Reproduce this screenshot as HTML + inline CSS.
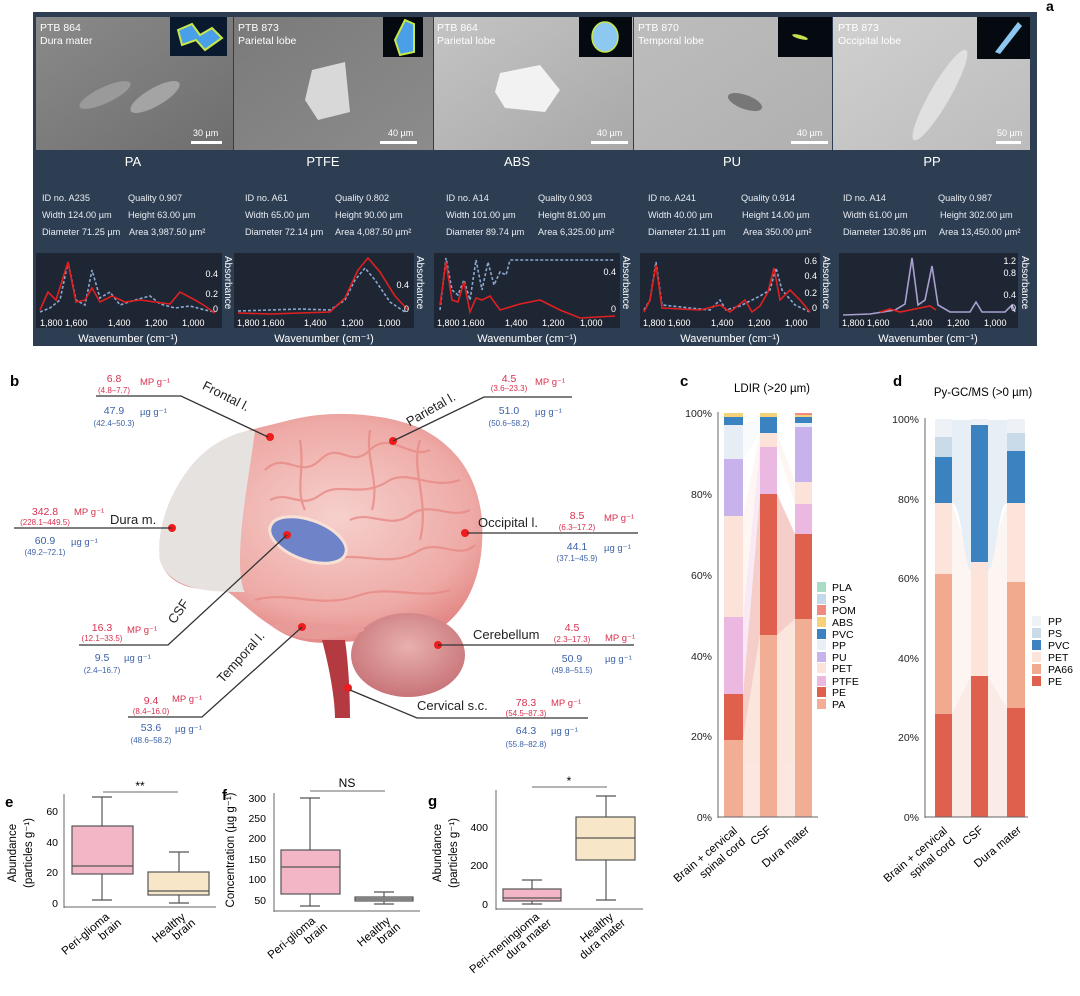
<!DOCTYPE html>
<html><head><meta charset="utf-8"><style>
html,body{margin:0;padding:0;background:#fff;}
svg{display:block;font-family:"Liberation Sans",sans-serif;}
</style></head><body>
<svg width="1080" height="996" viewBox="0 0 1080 996" xmlns="http://www.w3.org/2000/svg">
<defs>
<linearGradient id="g1" x1="0" y1="0" x2="1" y2="1"><stop offset="0" stop-color="#8a8a8a"/><stop offset="1" stop-color="#6e6e6e"/></linearGradient>
<linearGradient id="g2" x1="0" y1="0" x2="1" y2="1"><stop offset="0" stop-color="#7a7a7a"/><stop offset="1" stop-color="#8c8c8c"/></linearGradient>
<linearGradient id="g3" x1="0" y1="0" x2="1" y2="1"><stop offset="0" stop-color="#c4c4c4"/><stop offset="1" stop-color="#a8a8a8"/></linearGradient>
<linearGradient id="g4" x1="0" y1="0" x2="1" y2="1"><stop offset="0" stop-color="#bdbdbd"/><stop offset="1" stop-color="#b0b0b0"/></linearGradient>
<linearGradient id="g5" x1="0" y1="0" x2="1" y2="1"><stop offset="0" stop-color="#d0d0d0"/><stop offset="1" stop-color="#bcbcbc"/></linearGradient>
<radialGradient id="brain" cx="0.55" cy="0.45" r="0.6"><stop offset="0" stop-color="#f6d0cc"/><stop offset="0.7" stop-color="#eeaaa6"/><stop offset="1" stop-color="#e0807e"/></radialGradient>
<radialGradient id="cereb" cx="0.5" cy="0.4" r="0.6"><stop offset="0" stop-color="#e8b0ae"/><stop offset="1" stop-color="#c87478"/></radialGradient>
</defs>

<!-- PANEL A -->
<text x="1046" y="11" font-size="14" font-weight="bold">a</text>
<rect x="33" y="12" width="1004" height="334" fill="#2e3e52"/>
<rect x="36" y="17" width="197" height="133" fill="url(#g1)"/>
<rect x="234" y="17" width="199" height="133" fill="url(#g2)"/>
<rect x="434" y="17" width="199" height="133" fill="url(#g3)"/>
<rect x="634" y="17" width="198" height="133" fill="url(#g4)"/>
<rect x="833" y="17" width="197" height="133" fill="url(#g5)"/>
<!-- particles -->
<ellipse cx="105" cy="95" rx="28" ry="8" fill="#9a9a9a" transform="rotate(-25 105 95)"/>
<ellipse cx="155" cy="97" rx="28" ry="9" fill="#a4a4a4" transform="rotate(-30 155 97)"/>
<polygon points="312,70 345,62 350,112 318,120 305,100" fill="#d8d8d8"/>
<polygon points="500,73 540,65 560,90 545,112 505,108 495,92" fill="#f2f2f2"/>
<ellipse cx="745" cy="102" rx="18" ry="7" fill="#777" transform="rotate(20 745 102)"/>
<ellipse cx="940" cy="95" rx="10" ry="52" fill="#e0e0e0" transform="rotate(30 940 95)"/>
<!-- insets -->
<rect x="170" y="17" width="57" height="39" fill="#0a1a2e"/><path d="M178,30 L192,24 L200,35 L212,28 L222,38 L205,50 L196,40 L182,45 Z" fill="#4aa0e8" stroke="#c8e84a" stroke-width="2"/>
<rect x="383" y="17" width="40" height="40" fill="#050a10"/><path d="M405,20 L414,24 L414,52 L400,55 L395,40 Z" fill="#4aa0e8" stroke="#c8e84a" stroke-width="2"/>
<rect x="579" y="17" width="53" height="40" fill="#050a10"/><ellipse cx="605" cy="37" rx="13" ry="15" fill="#8cc8f0" stroke="#c8e84a" stroke-width="1.5"/>
<rect x="778" y="17" width="54" height="40" fill="#050a10"/><ellipse cx="800" cy="37" rx="8" ry="2" fill="#c8e050" transform="rotate(15 800 37)"/>
<rect x="977" y="17" width="53" height="42" fill="#050a10"/><path d="M995,52 L1018,22 L1022,26 L1000,54 Z" fill="#8cc8f0"/>
<g fill="#fff" font-size="10.5">
<text x="40" y="31">PTB 864</text><text x="40" y="44">Dura mater</text>
<text x="238" y="31">PTB 873</text><text x="238" y="44">Parietal lobe</text>
<text x="437" y="31">PTB 864</text><text x="437" y="44">Parietal lobe</text>
<text x="638" y="31">PTB 870</text><text x="638" y="44">Temporal lobe</text>
<text x="838" y="31">PTB 873</text><text x="838" y="44">Occipital lobe</text>
<g font-size="9"><text x="193" y="136">30 µm</text><text x="388" y="136">40 µm</text><text x="597" y="136">40 µm</text><text x="797" y="136">40 µm</text><text x="997" y="136">50 µm</text></g>
</g>
<g fill="#fff"><rect x="191" y="141" width="31" height="3"/><rect x="380" y="141" width="37" height="3"/><rect x="591" y="141" width="37" height="3"/><rect x="791" y="141" width="37" height="3"/><rect x="996" y="141" width="25" height="3"/></g>
<g fill="#fff" font-size="13" text-anchor="middle">
<text x="133" y="166">PA</text><text x="323" y="166">PTFE</text><text x="517" y="166">ABS</text><text x="732" y="166">PU</text><text x="932" y="166">PP</text>
</g>
<g fill="#e8ecf2" font-size="9.2">
<text x="42" y="201">ID no. A235</text><text x="128" y="201">Quality 0.907</text>
<text x="42" y="218">Width 124.00 µm</text><text x="128" y="218">Height 63.00 µm</text>
<text x="42" y="235">Diameter 71.25 µm</text><text x="129" y="235">Area 3,987.50 µm²</text>
<text x="245" y="201">ID no. A61</text><text x="335" y="201">Quality 0.802</text>
<text x="245" y="218">Width 65.00 µm</text><text x="335" y="218">Height 90.00 µm</text>
<text x="245" y="235">Diameter 72.14 µm</text><text x="335" y="235">Area 4,087.50 µm²</text>
<text x="446" y="201">ID no. A14</text><text x="538" y="201">Quality 0.903</text>
<text x="446" y="218">Width 101.00 µm</text><text x="538" y="218">Height 81.00 µm</text>
<text x="446" y="235">Diameter 89.74 µm</text><text x="538" y="235">Area 6,325.00 µm²</text>
<text x="648" y="201">ID no. A241</text><text x="741" y="201">Quality 0.914</text>
<text x="648" y="218">Width 40.00 µm</text><text x="742" y="218">Height 14.00 µm</text>
<text x="648" y="235">Diameter 21.11 µm</text><text x="743" y="235">Area 350.00 µm²</text>
<text x="843" y="201">ID no. A14</text><text x="938" y="201">Quality 0.987</text>
<text x="843" y="218">Width 61.00 µm</text><text x="940" y="218">Height 302.00 µm</text>
<text x="843" y="235">Diameter 130.86 µm</text><text x="939" y="235">Area 13,450.00 µm²</text>
</g>
<!-- spectra boxes -->
<g fill="#1f2633"><rect x="36" y="253" width="186" height="75"/><rect x="234" y="253" width="180" height="75"/><rect x="434" y="253" width="186" height="75"/><rect x="640" y="253" width="180" height="75"/><rect x="839" y="253" width="179" height="75"/></g>
<g fill="none" stroke-width="1.6">
<polyline stroke="#8aa8d0" stroke-dasharray="3,2" points="40,312 50,308 60,300 68,262 76,300 85,305 92,270 100,298 110,292 120,305 135,300 150,296 160,304 175,308 190,306 205,310 215,312"/>
<polyline stroke="#e02020" points="40,310 48,292 56,300 68,262 76,302 85,300 92,288 100,302 112,296 125,302 140,300 155,302 170,304 180,292 195,300 205,306 215,313"/>
<polyline stroke="#8aa8d0" stroke-dasharray="3,2" points="238,311 270,310 300,309 330,310 345,300 355,280 365,268 375,280 390,302 405,312"/>
<polyline stroke="#e02020" points="238,313 270,314 300,313 330,312 345,298 358,270 368,258 380,272 395,296 408,310"/>
<polyline stroke="#8aa8d0" stroke-dasharray="3,2" points="440,310 446,258 452,290 458,295 464,280 470,300 476,260 482,290 488,262 494,285 500,272 506,275 510,260 520,260 560,260 615,260"/>
<polyline stroke="#e02020" points="440,305 446,262 452,300 458,302 464,282 470,312 476,298 482,300 490,296 500,310 520,304 540,300 560,310 580,318 615,316"/>
<polyline stroke="#8aa8d0" stroke-dasharray="3,2" points="644,310 650,300 656,262 662,305 690,308 710,310 720,300 726,310 740,306 760,296 770,290 776,268 782,290 795,305 810,312"/>
<polyline stroke="#e02020" points="644,312 650,300 656,265 662,308 700,310 720,305 730,312 745,300 752,312 760,306 768,292 774,268 780,300 790,290 800,300 810,312"/>
<polyline stroke="#a8a0d0" points="843,315 870,314 895,310 905,304 912,258 918,305 925,300 932,266 938,305 950,312 970,312 976,302 982,312 1005,312 1012,305 1015,312"/>
<polyline stroke="#e02020" points="880,312 890,309 900,312 930,306 936,310"/>
</g>
<g fill="#fff" font-size="9">
<text x="40" y="326">1,800 1,600</text><text x="108" y="326">1,400</text><text x="145" y="326">1,200</text><text x="182" y="326">1,000</text>
<text x="237" y="326">1,800 1,600</text><text x="304" y="326">1,400</text><text x="341" y="326">1,200</text><text x="378" y="326">1,000</text>
<text x="437" y="326">1,800 1,600</text><text x="505" y="326">1,400</text><text x="542" y="326">1,200</text><text x="580" y="326">1,000</text>
<text x="643" y="326">1,800 1,600</text><text x="711" y="326">1,400</text><text x="748" y="326">1,200</text><text x="785" y="326">1,000</text>
<text x="842" y="326">1,800 1,600</text><text x="910" y="326">1,400</text><text x="947" y="326">1,200</text><text x="984" y="326">1,000</text>
<g text-anchor="end"><text x="218" y="277">0.4</text><text x="218" y="297">0.2</text><text x="218" y="312">0</text>
<text x="409" y="288">0.4</text><text x="409" y="312">0</text>
<text x="616" y="275">0.4</text><text x="616" y="312">0</text>
<text x="817" y="264">0.6</text><text x="817" y="279">0.4</text><text x="817" y="296">0.2</text><text x="817" y="311">0</text>
<text x="1016" y="264">1.2</text><text x="1016" y="276">0.8</text><text x="1016" y="298">0.4</text><text x="1016" y="311">0</text></g>
<g font-size="10"><text transform="translate(225,256) rotate(90)">Absorbance</text><text transform="translate(417,256) rotate(90)">Absorbance</text><text transform="translate(623,256) rotate(90)">Absorbance</text><text transform="translate(823,256) rotate(90)">Absorbance</text><text transform="translate(1022,256) rotate(90)">Absorbance</text></g>
<g font-size="11" text-anchor="middle"><text x="128" y="342">Wavenumber (cm⁻¹)</text><text x="324" y="342">Wavenumber (cm⁻¹)</text><text x="527" y="342">Wavenumber (cm⁻¹)</text><text x="730" y="342">Wavenumber (cm⁻¹)</text><text x="928" y="342">Wavenumber (cm⁻¹)</text></g>
</g>

<!-- PANEL B -->
<text x="10" y="386" font-size="15" font-weight="bold">b</text>
<!-- brain -->
<path d="M160,560 C155,520 180,470 210,448 C232,432 260,428 290,420 C330,410 380,412 420,428 C455,445 478,475 482,520 C485,570 470,605 445,625 C420,640 380,640 340,642 C310,645 290,640 270,625 C250,612 240,600 225,590 C200,590 170,590 160,560 Z" fill="url(#brain)"/>
<path d="M160,560 C155,520 180,470 210,448 C232,432 250,430 255,431 C250,470 240,520 240,560 C240,580 243,590 245,592 C215,592 170,592 160,560 Z" fill="#e6e2e0"/>
<g fill="none" stroke="#e88a86" stroke-width="2.2" opacity="0.8">
<path d="M265,470 C285,450 300,480 320,460 C340,440 350,470 370,450 C390,430 410,460 430,450"/>
<path d="M270,500 C290,490 300,510 320,495 C340,480 360,500 390,480 C410,470 430,490 460,480"/>
<path d="M330,560 C360,550 390,570 420,550 C440,540 460,560 475,545"/>
<path d="M255,600 C290,590 320,610 360,595 C390,585 420,600 450,590"/>
<path d="M350,520 C370,510 390,530 410,515 C430,500 450,520 470,510"/>
<path d="M300,440 C305,470 295,490 305,510"/><path d="M370,430 C365,460 380,480 372,510"/><path d="M420,440 C410,470 430,500 420,540"/>
</g>
<ellipse cx="308" cy="540" rx="40" ry="20" fill="#6f84c8" stroke="#f7e0d6" stroke-width="3" transform="rotate(20 308 540)"/>
<ellipse cx="408" cy="655" rx="57" ry="42" fill="url(#cereb)"/>
<path d="M322,640 C330,670 335,700 335,718 L350,718 C350,690 348,660 345,640 Z" fill="#b23a40"/>
<path d="M270,625 C300,645 330,640 360,632 C380,628 330,620 270,625 Z" fill="#e89a98"/>
<g fill="#ee1c1c"><circle cx="270" cy="437" r="4"/><circle cx="393" cy="441" r="4"/><circle cx="172" cy="528" r="4"/><circle cx="287" cy="535" r="4"/><circle cx="465" cy="533" r="4"/><circle cx="302" cy="627" r="4"/><circle cx="438" cy="645" r="4"/><circle cx="348" cy="688" r="4"/></g>
<g fill="none" stroke="#333" stroke-width="1.3">
<polyline points="96,396 181,396 268,437"/>
<polyline points="572,397 484,397 393,441"/>
<polyline points="14,528 172,528"/>
<polyline points="467,533 638,533"/>
<polyline points="79,645 168,645 287,535"/>
<polyline points="438,645 634,645"/>
<polyline points="128,717 202,717 302,627"/>
<polyline points="350,690 417,718 588,718"/>
</g>
<g font-size="10.5" text-anchor="middle">
<g fill="#d9304e">
<text x="114" y="382">6.8</text><text x="509" y="382">4.5</text><text x="45" y="515">342.8</text><text x="577" y="519">8.5</text><text x="102" y="631">16.3</text><text x="572" y="631">4.5</text><text x="151" y="704">9.4</text><text x="526" y="706">78.3</text>
<g font-size="8"><text x="114" y="393">(4.8–7.7)</text><text x="509" y="391">(3.6–23.3)</text><text x="45" y="525">(228.1–449.5)</text><text x="577" y="530">(6.3–17.2)</text><text x="102" y="641">(12.1–33.5)</text><text x="572" y="642">(2.3–17.3)</text><text x="151" y="714">(8.4–16.0)</text><text x="526" y="716">(54.5–87.3)</text></g>
<g text-anchor="start" font-size="9.5"><text x="140" y="385">MP g⁻¹</text><text x="535" y="385">MP g⁻¹</text><text x="74" y="515">MP g⁻¹</text><text x="604" y="521">MP g⁻¹</text><text x="127" y="633">MP g⁻¹</text><text x="605" y="641">MP g⁻¹</text><text x="172" y="702">MP g⁻¹</text><text x="551" y="706">MP g⁻¹</text></g>
</g>
<g fill="#3d62a8">
<text x="114" y="414">47.9</text><text x="509" y="414">51.0</text><text x="45" y="544">60.9</text><text x="577" y="550">44.1</text><text x="102" y="661">9.5</text><text x="572" y="662">50.9</text><text x="151" y="731">53.6</text><text x="526" y="734">64.3</text>
<g font-size="8"><text x="114" y="426">(42.4–50.3)</text><text x="509" y="426">(50.6–58.2)</text><text x="45" y="555">(49.2–72.1)</text><text x="577" y="561">(37.1–45.9)</text><text x="102" y="673">(2.4–16.7)</text><text x="572" y="673">(49.8–51.5)</text><text x="151" y="743">(48.6–58.2)</text><text x="526" y="747">(55.8–82.8)</text></g>
<g text-anchor="start" font-size="9.5"><text x="140" y="415">µg g⁻¹</text><text x="535" y="415">µg g⁻¹</text><text x="71" y="545">µg g⁻¹</text><text x="604" y="551">µg g⁻¹</text><text x="124" y="661">µg g⁻¹</text><text x="605" y="662">µg g⁻¹</text><text x="175" y="732">µg g⁻¹</text><text x="551" y="734">µg g⁻¹</text></g>
</g>
</g>
<g font-size="13" fill="#222">
<text x="110" y="524">Dura m.</text><text x="478" y="527">Occipital l.</text><text x="473" y="639">Cerebellum</text><text x="417" y="710">Cervical s.c.</text>
<text transform="translate(224,400) rotate(27)" text-anchor="middle">Frontal l.</text>
<text transform="translate(433,413) rotate(-30)" text-anchor="middle">Parietal l.</text>
<text transform="translate(182,614) rotate(-55)" text-anchor="middle">CSF</text>
<text transform="translate(244,660) rotate(-48)" text-anchor="middle">Temporal l.</text>
</g>

<!-- PANEL C -->
<text x="680" y="386" font-size="15" font-weight="bold">c</text>
<text x="772" y="392" font-size="11.5" text-anchor="middle">LDIR (&gt;20 µm)</text>
<g opacity="0.3">
<polygon points="743,740 760,635 760,817 743,817" fill="#f2ae94"/><polygon points="777,635 795,619 795,817 777,817" fill="#f2ae94"/>
<polygon points="743,694 760,494 760,635 743,740" fill="#e0604e"/><polygon points="777,494 795,534 795,619 777,635" fill="#e0604e"/>
<polygon points="743,517 760,433 760,447 743,617" fill="#fbe3da"/><polygon points="777,433 795,482 795,504 777,447" fill="#fbe3da"/>
<polygon points="743,617 760,447 760,494 743,694" fill="#eab8e0"/>
<polygon points="743,425 760,417 760,433 743,459" fill="#e9eff5"/>
</g>
<g>
<rect x="724" y="740" width="19" height="77" fill="#f2ae94"/><rect x="724" y="694" width="19" height="46" fill="#e0604e"/><rect x="724" y="617" width="19" height="77" fill="#eab8e0"/><rect x="724" y="516" width="19" height="101" fill="#fbe3da"/><rect x="724" y="459" width="19" height="57" fill="#c7b2ec"/><rect x="724" y="425" width="19" height="34" fill="#e6edf4"/><rect x="724" y="417" width="19" height="8" fill="#3b82c0"/><rect x="724" y="413" width="19" height="4" fill="#f5d27a"/>
<rect x="760" y="635" width="17" height="182" fill="#f2ae94"/><rect x="760" y="494" width="17" height="141" fill="#e0604e"/><rect x="760" y="447" width="17" height="47" fill="#eab8e0"/><rect x="760" y="433" width="17" height="14" fill="#fbe3da"/><rect x="760" y="417" width="17" height="16" fill="#3b82c0"/><rect x="760" y="413" width="17" height="4" fill="#f5d27a"/>
<rect x="795" y="619" width="17" height="198" fill="#f2ae94"/><rect x="795" y="534" width="17" height="85" fill="#e0604e"/><rect x="795" y="504" width="17" height="30" fill="#eab8e0"/><rect x="795" y="482" width="17" height="22" fill="#fbe3da"/><rect x="795" y="427" width="17" height="55" fill="#c7b2ec"/><rect x="795" y="423" width="17" height="4" fill="#e6edf4"/><rect x="795" y="417" width="17" height="6" fill="#3b82c0"/><rect x="795" y="415" width="17" height="2" fill="#f5d27a"/><rect x="795" y="413" width="17" height="2" fill="#f08a80"/>
</g>
<line x1="718" y1="412" x2="718" y2="818" stroke="#666"/><line x1="718" y1="817" x2="818" y2="817" stroke="#666"/>
<g font-size="10.5" text-anchor="end" fill="#222"><text x="712" y="821">0%</text><text x="712" y="740">20%</text><text x="712" y="660">40%</text><text x="712" y="579">60%</text><text x="712" y="498">80%</text><text x="712" y="417">100%</text></g>
<g font-size="10.5">
<rect x="817" y="582" width="9" height="10" fill="#a8dcc4"/><text x="832" y="591">PLA</text>
<rect x="817" y="594" width="9" height="10" fill="#c6d9e8"/><text x="832" y="603">PS</text>
<rect x="817" y="605" width="9" height="10" fill="#f08a80"/><text x="832" y="614">POM</text>
<rect x="817" y="617" width="9" height="10" fill="#f5d27a"/><text x="832" y="626">ABS</text>
<rect x="817" y="629" width="9" height="10" fill="#3b82c0"/><text x="832" y="638">PVC</text>
<rect x="817" y="640" width="9" height="10" fill="#e9eff5"/><text x="832" y="649">PP</text>
<rect x="817" y="652" width="9" height="10" fill="#c7b2ec"/><text x="832" y="661">PU</text>
<rect x="817" y="663" width="9" height="10" fill="#fbe3da"/><text x="832" y="672">PET</text>
<rect x="817" y="676" width="9" height="10" fill="#eab8e0"/><text x="832" y="685">PTFE</text>
<rect x="817" y="687" width="9" height="10" fill="#e0604e"/><text x="832" y="696">PE</text>
<rect x="817" y="699" width="9" height="10" fill="#f2ae94"/><text x="832" y="708">PA</text>
</g>
<g font-size="11.5" text-anchor="end">
<text transform="translate(738,832) rotate(-40)">Brain + cervical</text>
<text transform="translate(746,843) rotate(-40)">spinal cord</text>
<text transform="translate(772,831) rotate(-40)">CSF</text>
<text transform="translate(810,831) rotate(-40)">Dura mater</text>
</g>

<!-- PANEL D -->
<text x="893" y="386" font-size="15" font-weight="bold">d</text>
<text x="983" y="396" font-size="11.5" text-anchor="middle">Py-GC/MS (&gt;0 µm)</text>
<g opacity="0.35">
<polygon points="952,714 971,676 971,817 952,817" fill="#f2c8bc"/><polygon points="988,676 1007,708 1007,817 988,817" fill="#f2c8bc"/>
<polygon points="952,503 971,562 971,676 952,714" fill="#fbe3da"/><polygon points="988,562 1007,503 1007,708 988,676" fill="#fbe3da"/>
<path d="M952,420 L952,503 C962,503 964,570 971,570 L971,420 Z M988,420 L988,570 C996,570 998,503 1007,503 L1007,420 Z" fill="#bcd3e6"/>
</g>
<rect x="935" y="714" width="17" height="103" fill="#e0604e"/><rect x="935" y="574" width="17" height="140" fill="#f1aa8e"/><rect x="935" y="503" width="17" height="71" fill="#fce4db"/><rect x="935" y="457" width="17" height="46" fill="#3b82c0"/><rect x="935" y="437" width="17" height="20" fill="#c9dbe8"/><rect x="935" y="419" width="17" height="18" fill="#eef2f6"/>
<rect x="971" y="676" width="17" height="141" fill="#e0604e"/><rect x="971" y="562" width="17" height="114" fill="#fce4db"/><rect x="971" y="425" width="17" height="137" fill="#3b82c0"/><rect x="971" y="419" width="17" height="6" fill="#eef2f6"/>
<rect x="1007" y="708" width="18" height="109" fill="#e0604e"/><rect x="1007" y="582" width="18" height="126" fill="#f1aa8e"/><rect x="1007" y="503" width="18" height="79" fill="#fce4db"/><rect x="1007" y="451" width="18" height="52" fill="#3b82c0"/><rect x="1007" y="433" width="18" height="18" fill="#c9dbe8"/><rect x="1007" y="419" width="18" height="14" fill="#eef2f6"/>
<line x1="925" y1="418" x2="925" y2="818" stroke="#666"/><line x1="925" y1="817" x2="1028" y2="817" stroke="#666"/>
<g font-size="10.5" text-anchor="end" fill="#222"><text x="919" y="821">0%</text><text x="919" y="741">20%</text><text x="919" y="662">40%</text><text x="919" y="582">60%</text><text x="919" y="503">80%</text><text x="919" y="423">100%</text></g>
<g font-size="10.5">
<rect x="1032" y="616" width="9" height="10" fill="#eef2f6"/><text x="1048" y="625">PP</text>
<rect x="1032" y="628" width="9" height="10" fill="#c9dbe8"/><text x="1048" y="637">PS</text>
<rect x="1032" y="640" width="9" height="10" fill="#3b82c0"/><text x="1048" y="649">PVC</text>
<rect x="1032" y="652" width="9" height="10" fill="#fce4db"/><text x="1048" y="661">PET</text>
<rect x="1032" y="664" width="9" height="10" fill="#f1aa8e"/><text x="1048" y="673">PA66</text>
<rect x="1032" y="676" width="9" height="10" fill="#e0604e"/><text x="1048" y="685">PE</text>
</g>
<g font-size="11.5" text-anchor="end">
<text transform="translate(948,832) rotate(-40)">Brain + cervical</text>
<text transform="translate(956,843) rotate(-40)">spinal cord</text>
<text transform="translate(984,831) rotate(-40)">CSF</text>
<text transform="translate(1022,831) rotate(-40)">Dura mater</text>
</g>

<!-- PANEL E -->
<text x="5" y="807" font-size="15" font-weight="bold">e</text>
<line x1="64" y1="794" x2="64" y2="908" stroke="#666"/><line x1="64" y1="907" x2="216" y2="907" stroke="#666"/>
<g font-size="10.5" text-anchor="end"><text x="58" y="907">0</text><text x="58" y="876">20</text><text x="58" y="846">40</text><text x="58" y="815">60</text></g>
<g stroke="#555" stroke-width="1.2" fill="none">
<line x1="102" y1="797" x2="102" y2="900"/><line x1="92" y1="797" x2="112" y2="797"/><line x1="92" y1="900" x2="112" y2="900"/>
<rect x="72" y="826" width="61" height="48" fill="#f2b6c6"/><line x1="72" y1="866" x2="133" y2="866"/>
<line x1="179" y1="852" x2="179" y2="903"/><line x1="169" y1="852" x2="189" y2="852"/><line x1="169" y1="903" x2="189" y2="903"/>
<rect x="148" y="872" width="61" height="23" fill="#f8e6c8"/><line x1="148" y1="891" x2="209" y2="891"/>
<line x1="103" y1="792" x2="178" y2="792" stroke="#888"/>
</g>
<text x="140" y="790" font-size="12" text-anchor="middle">**</text>
<g font-size="11.5" text-anchor="middle"><text transform="translate(16,853) rotate(-90)">Abundance</text><text transform="translate(32,853) rotate(-90)">(particles g⁻¹)</text></g>
<g font-size="11.5" text-anchor="end">
<text transform="translate(110,918) rotate(-40)">Peri-glioma</text><text transform="translate(122,924) rotate(-40)">brain</text>
<text transform="translate(186,918) rotate(-40)">Healthy</text><text transform="translate(196,924) rotate(-40)">brain</text>
</g>

<!-- PANEL F -->
<text x="222" y="800" font-size="15" font-weight="bold">f</text>
<line x1="274" y1="793" x2="274" y2="912" stroke="#666"/><line x1="274" y1="911" x2="420" y2="911" stroke="#666"/>
<g font-size="10.5" text-anchor="end"><text x="266" y="904">50</text><text x="266" y="883">100</text><text x="266" y="863">150</text><text x="266" y="842">200</text><text x="266" y="822">250</text><text x="266" y="802">300</text></g>
<g stroke="#555" stroke-width="1.2" fill="none">
<line x1="310" y1="798" x2="310" y2="906"/><line x1="300" y1="798" x2="320" y2="798"/><line x1="300" y1="906" x2="320" y2="906"/>
<rect x="281" y="850" width="59" height="44" fill="#f2b6c6"/><line x1="281" y1="867" x2="340" y2="867"/>
<line x1="384" y1="892" x2="384" y2="904"/><line x1="374" y1="892" x2="394" y2="892"/><line x1="374" y1="904" x2="394" y2="904"/>
<rect x="355" y="897" width="58" height="4" fill="#ccc"/><line x1="355" y1="899" x2="413" y2="899"/>
<line x1="310" y1="791" x2="385" y2="791" stroke="#888"/>
</g>
<text x="347" y="787" font-size="12" text-anchor="middle">NS</text>
<text transform="translate(234,850) rotate(-90)" font-size="11.5" text-anchor="middle">Concentration (µg g⁻¹)</text>
<g font-size="11.5" text-anchor="end">
<text transform="translate(316,922) rotate(-40)">Peri-glioma</text><text transform="translate(328,928) rotate(-40)">brain</text>
<text transform="translate(391,922) rotate(-40)">Healthy</text><text transform="translate(401,928) rotate(-40)">brain</text>
</g>

<!-- PANEL G -->
<text x="428" y="806" font-size="15" font-weight="bold">g</text>
<line x1="496" y1="790" x2="496" y2="910" stroke="#666"/><line x1="496" y1="909" x2="643" y2="909" stroke="#666"/>
<g font-size="10.5" text-anchor="end"><text x="488" y="908">0</text><text x="488" y="869">200</text><text x="488" y="831">400</text></g>
<g stroke="#555" stroke-width="1.2" fill="none">
<line x1="532" y1="880" x2="532" y2="904"/><line x1="522" y1="880" x2="542" y2="880"/><line x1="522" y1="904" x2="542" y2="904"/>
<rect x="503" y="889" width="58" height="12" fill="#f2b6c6"/><line x1="503" y1="898" x2="561" y2="898"/>
<line x1="606" y1="796" x2="606" y2="900"/><line x1="596" y1="796" x2="616" y2="796"/><line x1="596" y1="900" x2="616" y2="900"/>
<rect x="576" y="817" width="59" height="43" fill="#f8e6c8"/><line x1="576" y1="838" x2="635" y2="838"/>
<line x1="532" y1="787" x2="607" y2="787" stroke="#888"/>
</g>
<text x="569" y="785" font-size="12" text-anchor="middle">*</text>
<g font-size="11.5" text-anchor="middle"><text transform="translate(441,853) rotate(-90)">Abundance</text><text transform="translate(457,853) rotate(-90)">(particles g⁻¹)</text></g>
<g font-size="11.5" text-anchor="end">
<text transform="translate(540,918) rotate(-40)">Peri-meningioma</text><text transform="translate(552,924) rotate(-40)">dura mater</text>
<text transform="translate(614,918) rotate(-40)">Healthy</text><text transform="translate(626,924) rotate(-40)">dura mater</text>
</g>
</svg>
</body></html>
